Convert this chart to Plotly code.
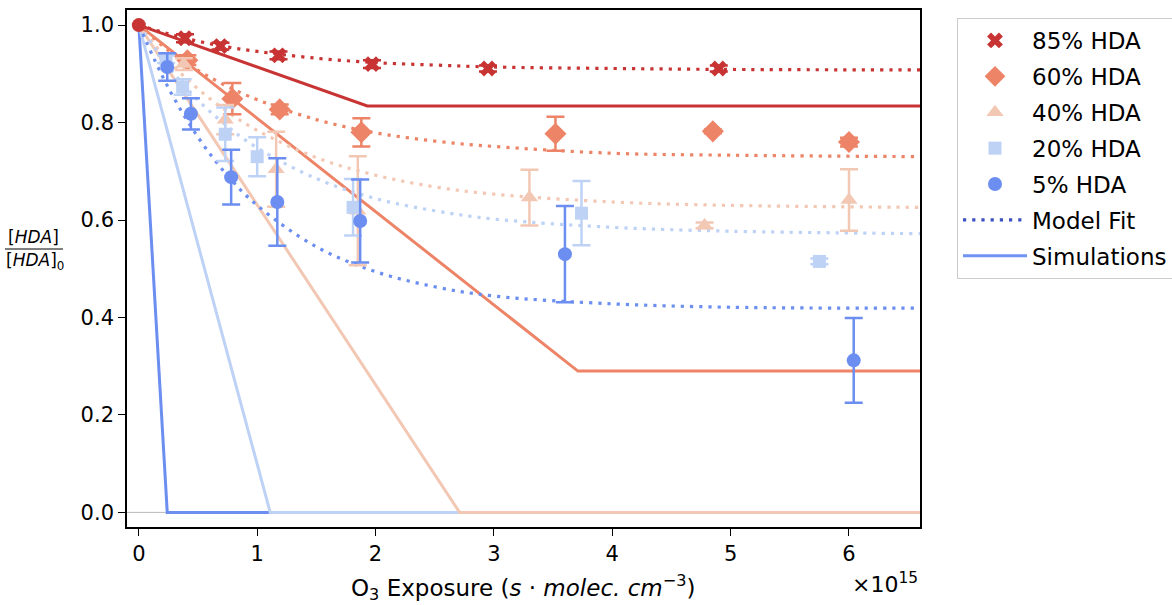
import plotly.graph_objects as go

# ---------------- data (x in units of 1e15 s*molec/cm3) ----------------
labels = ["85% HDA", "60% HDA", "40% HDA", "20% HDA", "5% HDA"]
colors = ["#c83434", "#ed8467", "#f2c8b4", "#bed2f6", "#6b8ef0"]
symbols = ["x", "diamond", "triangle-up", "square", "circle"]
msizes = [14, 17, 15, 13, 14]

x85 = [0.39, 0.69, 1.18, 1.97, 2.95, 4.90]
y85 = [0.973, 0.957, 0.938, 0.920, 0.911, 0.911]
e85 = [0.008, 0.007, 0.008, 0.008, 0.006, 0.006]

x60 = [0.41, 0.79, 1.19, 1.88, 3.52, 4.85, 6.00]
y60 = [0.928, 0.849, 0.827, 0.780, 0.777, 0.782, 0.760]
e60 = [0.010, 0.032, 0.010, 0.029, 0.035, 0.004, 0.009]

x40 = [0.38, 0.73, 1.16, 1.85, 3.30, 4.78, 6.00]
y40 = [0.920, 0.806, 0.704, 0.619, 0.646, 0.589, 0.641]
e40 = [0.012, 0.030, 0.077, 0.112, 0.057, 0.006, 0.063]

x20 = [0.23, 0.37, 0.73, 1.00, 1.81, 3.74, 5.75]
y20 = [0.930, 0.873, 0.776, 0.730, 0.626, 0.614, 0.515]
e20 = [0.008, 0.016, 0.055, 0.040, 0.058, 0.066, 0.006]

x5 = [0.24, 0.44, 0.78, 1.17, 1.87, 3.60, 6.04]
y5 = [0.914, 0.818, 0.688, 0.637, 0.598, 0.530, 0.312]
e5 = [0.028, 0.032, 0.056, 0.090, 0.085, 0.099, 0.087]

x_start = [0.0]
y_start = [1.0]

# model fits
fit_x = [0, 0.25, 0.5, 0.75, 1.0, 1.5, 2.0, 2.5, 3.0, 4.0, 5.0, 6.6]
fit85 = [1.0, 0.982, 0.967, 0.955, 0.946, 0.932, 0.923, 0.918, 0.914, 0.911, 0.909, 0.908]
fit60 = [1.0, 0.948, 0.907, 0.874, 0.847, 0.806, 0.779, 0.762, 0.751, 0.737, 0.733, 0.730]
fit40 = [1.0, 0.927, 0.869, 0.822, 0.784, 0.728, 0.692, 0.668, 0.653, 0.637, 0.630, 0.626]
fit20 = [1.0, 0.915, 0.846, 0.792, 0.748, 0.685, 0.644, 0.619, 0.602, 0.585, 0.577, 0.572]
fit5 = [1.0, 0.871, 0.770, 0.691, 0.630, 0.545, 0.494, 0.463, 0.444, 0.428, 0.421, 0.419]

# simulations (piecewise linear)
sim85_x = [0, 1.93, 6.6]; sim85_y = [1.0, 0.834, 0.834]
sim60_x = [0, 3.71, 6.6]; sim60_y = [1.0, 0.290, 0.290]
sim40_x = [0, 2.71, 6.6]; sim40_y = [1.0, 0.0, 0.0]
sim20_x = [0, 1.11, 6.6]; sim20_y = [1.0, 0.0, 0.0]
sim5_x = [0, 0.24, 6.6]; sim5_y = [1.0, 0.0, 0.0]

xs = [x85, x60, x40, x20, x5]
ys = [y85, y60, y40, y20, y5]
es = [e85, e60, e40, e20, e5]
fits = [fit85, fit60, fit40, fit20, fit5]
sims = [(sim85_x, sim85_y), (sim60_x, sim60_y), (sim40_x, sim40_y),
        (sim20_x, sim20_y), (sim5_x, sim5_y)]

fig = go.Figure()

fig.add_hline(y=0, line=dict(color="#b8b8b8", width=1), layer="below")

# simulations (draw 5% first so that lighter ones sit on top at zero)
for i in [4, 3, 2, 1, 0]:
    sx, sy = sims[i]
    fig.add_trace(go.Scatter(x=sx, y=sy, mode="lines",
                             line=dict(color=colors[i], width=3),
                             showlegend=False, hoverinfo="skip"))

# model fits
for i in range(5):
    fig.add_trace(go.Scatter(x=fit_x, y=fits[i], mode="lines",
                             line=dict(color=colors[i], width=3.2,
                                       dash="3.2px,6px", shape="spline"),
                             showlegend=False, hoverinfo="skip"))

# data
for i in range(5):
    fig.add_trace(go.Scatter(
        x=xs[i], y=ys[i], mode="markers", name=labels[i],
        legendgroup=labels[i],
        marker=dict(symbol=symbols[i], size=msizes[i], color=colors[i],
                    line=dict(width=0)),
        error_y=dict(type="data", array=es[i], visible=True,
                     color=colors[i], thickness=2.5, width=9)))

fig.add_trace(go.Scatter(x=x_start, y=y_start, mode="markers",
                         marker=dict(symbol="circle", size=14, color=colors[0]),
                         showlegend=False))

# legend-only entries
fig.add_trace(go.Scatter(x=[None], y=[None], mode="lines", name="Model Fit",
                         legendgroup="fit",
                         line=dict(color="#3d50c3", width=3.2, dash="3.2px,6px")))
fig.add_trace(go.Scatter(x=[None], y=[None], mode="lines", name="Simulations",
                         legendgroup="sim",
                         line=dict(color="#6f92f3", width=3)))

L, R, T, B = 127, 252, 10, 78
W, H = 1172, 605
pw, ph = W - L - R, H - T - B

def px2paper_x(p):
    return (p - L) / pw

def py2paper_y(p):
    return (H - B - p) / ph

fig.update_layout(
    width=W, height=H,
    margin=dict(l=L, r=R, t=T, b=B, autoexpand=False),
    plot_bgcolor="white", paper_bgcolor="white",
    font=dict(family="DejaVu Sans", size=21, color="black"),
    showlegend=True,
    legend=dict(x=px2paper_x(957), y=py2paper_y(18), xanchor="left", yanchor="top",
                bordercolor="#cccccc", borderwidth=1, bgcolor="white",
                font=dict(size=23), traceorder="grouped", tracegroupgap=3,
                itemwidth=64),
)
fig.update_xaxes(range=[-0.1, 6.6], tickmode="array", tickvals=[0, 1, 2, 3, 4, 5, 6],
                 ticktext=["0", "1", "2", "3", "4", "5", "6"],
                 showgrid=False, zeroline=False, showline=True, linecolor="black",
                 linewidth=1.6, mirror=True, ticks="outside", ticklen=7, tickwidth=1.4,
                 tickcolor="black", tickfont=dict(size=21))
fig.update_yaxes(range=[-0.03, 1.031], tickmode="array",
                 tickvals=[0, 0.2, 0.4, 0.6, 0.8, 1.0],
                 ticktext=["0.0", "0.2", "0.4", "0.6", "0.8", "1.0"],
                 showgrid=False, zeroline=False, showline=True, linecolor="black",
                 linewidth=1.6, mirror=True, ticks="outside", ticklen=7, tickwidth=1.4,
                 tickcolor="black", tickfont=dict(size=21))

# x-axis title and multiplier
fig.add_annotation(xref="paper", yref="paper", x=px2paper_x(523), y=py2paper_y(587),
                   text="O<sub>3</sub> Exposure (<i>s</i> · <i>molec. cm</i><sup>−3</sup>)",
                   showarrow=False, xanchor="center", yanchor="middle", font=dict(size=23))
fig.add_annotation(xref="paper", yref="paper", x=1.0, y=py2paper_y(583),
                   text="×10<sup>15</sup>", showarrow=False, xanchor="right",
                   yanchor="middle", font=dict(size=22))

# y-axis label as fraction
fig.add_annotation(xref="paper", yref="paper", x=px2paper_x(33), y=py2paper_y(237),
                   text="[<i>HDA</i>]", showarrow=False, xanchor="center",
                   yanchor="middle", font=dict(size=17))
fig.add_annotation(xref="paper", yref="paper", x=px2paper_x(35), y=py2paper_y(261),
                   text="[<i>HDA</i>]<sub>0</sub>", showarrow=False, xanchor="center",
                   yanchor="middle", font=dict(size=17))
fig.add_shape(type="line", xref="paper", yref="paper",
              x0=px2paper_x(5), x1=px2paper_x(63), y0=py2paper_y(249), y1=py2paper_y(249),
              line=dict(color="black", width=1))

fig.write_html("out.html")
